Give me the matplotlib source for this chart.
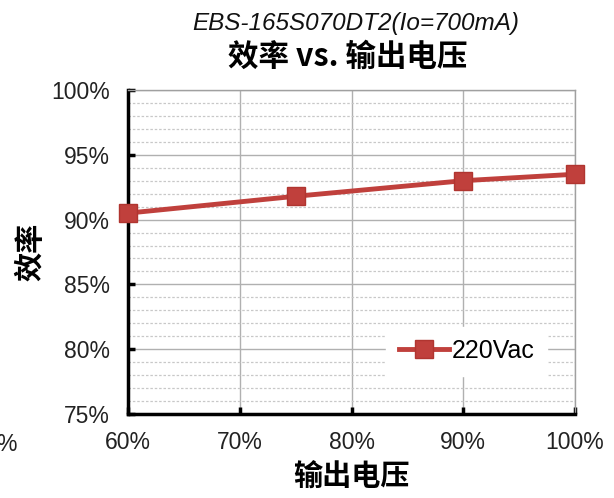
import matplotlib
matplotlib.use("Agg")
import matplotlib.pyplot as plt
from matplotlib.ticker import MultipleLocator, FuncFormatter

plt.rcParams['font.family'] = ['Noto Sans CJK SC', 'DejaVu Sans']

x_vals = [60, 75, 90, 100]
eff_220 = [90.5, 91.8, 93.0, 93.5]
series_name = "220Vac"
x_ticks = [60, 70, 80, 90, 100]
y_ticks = [75, 80, 85, 90, 95, 100]

fig = plt.figure(figsize=(6.14, 4.98), dpi=100)
ax = fig.add_axes([0.2085, 0.1687, 0.728, 0.6506])

ax.set_xlim(60, 100)
ax.set_ylim(75, 100)
ax.set_xticks(x_ticks)
ax.set_yticks(y_ticks)
ax.yaxis.set_minor_locator(MultipleLocator(1))
fmt = FuncFormatter(lambda v, p: f"{int(round(v))}%")
ax.xaxis.set_major_formatter(fmt)
ax.yaxis.set_major_formatter(fmt)

ax.grid(True, which='major', color='#b0b0b0', linewidth=1.0, linestyle='-')
ax.grid(True, which='minor', axis='y', color='#c8c8c8', linewidth=0.9, linestyle=(0, (2, 1.5)))
ax.set_axisbelow(True)

for s in ['left', 'bottom']:
    ax.spines[s].set_color('black')
    ax.spines[s].set_linewidth(2.5)
for s in ['top', 'right']:
    ax.spines[s].set_color('#a0a0a0')
    ax.spines[s].set_linewidth(1.0)

ax.tick_params(axis='both', which='major', direction='in', length=5, width=2.5,
               labelsize=16.5, colors='black', labelcolor='#222222')
ax.tick_params(axis='y', which='minor', length=0)
ax.tick_params(axis='x', pad=12)
ax.tick_params(axis='y', pad=13)
for lab in ax.get_xticklabels() + ax.get_yticklabels():
    lab.set_family(['Liberation Sans', 'DejaVu Sans'])

ax.plot(x_vals, eff_220, color='#c0403c', linewidth=3.5, marker='s', markersize=13,
        markerfacecolor='#c0403c', markeredgecolor='#b03530', label=series_name, clip_on=False, zorder=5)

leg = ax.legend(loc='lower right', bbox_to_anchor=(0.965, 0.08), frameon=True, fancybox=False,
                edgecolor='white', framealpha=1.0, prop={'family': ['Liberation Sans'], 'size': 18},
                handlelength=2.0, handletextpad=0.1, borderpad=0.5)

ax.set_xlabel("输出电压", fontsize=21, fontweight='bold', labelpad=6)
ax.set_ylabel("效率", fontsize=21, fontweight='bold', labelpad=4)

fig.text(0.58, 0.953, "EBS-165S070DT2(Io=700mA)", ha='center', va='center', fontsize=17.5,
         style='italic', family=['Liberation Sans', 'DejaVu Sans'], color='#111111')
fig.text(0.567, 0.886, "效率 vs. 输出电压", ha='center', va='center', fontsize=22, fontweight='bold')

fig.text(-0.006, 0.107, "%", ha='left', va='center', fontsize=16.5, color='#222222',
         family=['Liberation Sans'])

fig.savefig("out.png", dpi=100)
